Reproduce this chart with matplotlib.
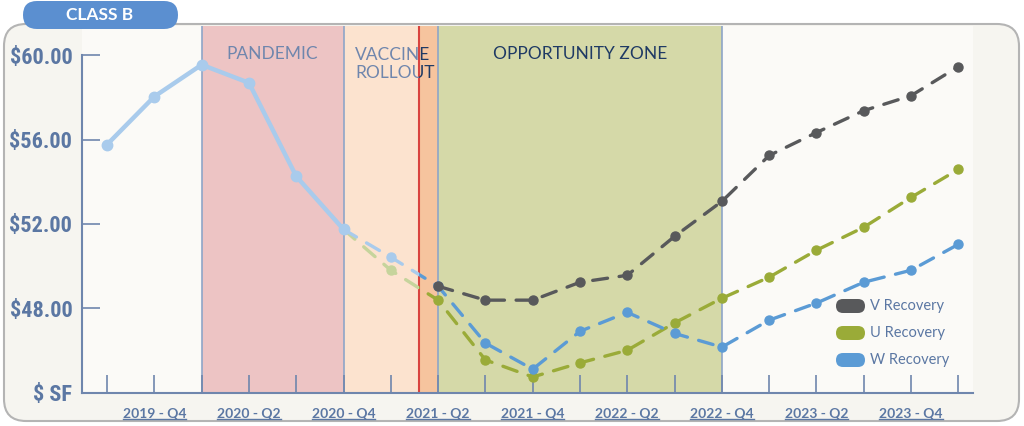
import numpy as np
import matplotlib
matplotlib.use('Agg')
import matplotlib.pyplot as plt
from matplotlib.patches import FancyBboxPatch, Rectangle
from matplotlib.transforms import IdentityTransform, blended_transform_factory
from matplotlib.lines import Line2D
from matplotlib import font_manager

plt.rcParams['font.family'] = ['Lato', 'DejaVu Sans']

# quarters from 2019-Q3 to 2024-Q1 -> index 0..18
quarters = np.arange(19)
tick_labels = ['2019 - Q4', '2020 - Q2', '2020 - Q4', '2021 - Q2', '2021 - Q4',
               '2022 - Q2', '2022 - Q4', '2023 - Q2', '2023 - Q4']
label_pos = [1, 3, 5, 7, 9, 11, 13, 15, 17]

hist_x = [0, 1, 2, 3, 4, 5]
hist_y = [55.77, 58.05, 59.56, 58.70, 54.26, 51.74]

w_x = [5, 6, 7, 8, 9, 10, 11, 12, 13, 14, 15, 16, 17, 18]
w_y = [51.74, 50.42, 49.04, 46.34, 45.10, 46.90, 47.80, 46.80, 46.15,
       47.43, 48.24, 49.23, 49.80, 51.03]
u_x = [5, 6, 7, 8, 9, 10, 11, 12, 13, 14, 15, 16, 17, 18]
u_y = [51.74, 49.80, 48.38, 45.54, 44.73, 45.40, 46.00, 47.30, 48.47,
       49.47, 50.75, 51.84, 53.26, 54.59]
v_x = [7, 8, 9, 10, 11, 12, 13, 14, 15, 16, 17, 18]
v_y = [49.04, 48.38, 48.38, 49.23, 49.56, 51.41, 53.07, 55.25, 56.34,
       57.38, 58.09, 59.47]

y_ticks = [44, 48, 52, 56, 60]
y_labels = ['$ SF', '$48.00', '$52.00', '$56.00', '$60.00']

# zones (in quarter index units)
pandemic = (2, 5)
vaccine = (5, 6.6)
now_zone = (6.6, 7)
opportunity = (7, 13)

AXIS = '#6f86ad'
TXT = '#5b77a3'
NAVY = '#1f3a64'
GRAY = '#58595b'
GREEN = '#9aab38'
BLUE = '#5b9bd5'
LBLUE = '#a9cbec'
LGREEN = '#c6d49c'

# narrow font for the price labels, if there is one
names = {f.name for f in font_manager.fontManager.ttflist}
narrow = None
for cand in ['Liberation Sans Narrow', 'DejaVu Sans Condensed', 'Roboto Condensed',
             'Open Sans Condensed']:
    if cand in names:
        narrow = cand
        break

fig = plt.figure(figsize=(10.24, 4.26), dpi=100)
fig.patch.set_facecolor('white')

# outer panel and header pill (pixel coordinates)
fig.add_artist(FancyBboxPatch((4, 5), 1015, 397, boxstyle='round,pad=0,rounding_size=22',
                              transform=IdentityTransform(), facecolor='#f6f5f0',
                              edgecolor='#b4b4b4', linewidth=1.5, zorder=0))
fig.add_artist(FancyBboxPatch((23, 397), 155, 28, boxstyle='round,pad=0,rounding_size=14',
                              transform=IdentityTransform(), facecolor='#5b8fd0',
                              edgecolor='none', zorder=1))
fig.text(100 / 1024, 411 / 426, 'CLASS B', color='white', fontsize=12.5, fontweight='bold',
         ha='center', va='center')

ax = fig.add_axes([82 / 1024, 33 / 426, 891 / 1024, 367 / 426])
ax.set_facecolor('#fbfaf7')
ax.set_xlim(-0.53, 18.31)
ax.set_ylim(43.97, 61.4)

# zones
ax.axvspan(*pandemic, color='#edc4c4', lw=0, zorder=0)
ax.axvspan(*vaccine, color='#fce3cf', lw=0, zorder=0)
ax.axvspan(*now_zone, color='#f6c49e', lw=0, zorder=0)
ax.axvspan(*opportunity, color='#d5d9a8', lw=0, zorder=0)
for b in [pandemic[0], pandemic[1], opportunity[0], opportunity[1]]:
    ax.axvline(b, color='#8ea5c8', lw=1.2, zorder=1)
ax.axvline(now_zone[0], color='#d9433f', lw=1.5, zorder=1)

# zone titles
ax.text(3.5, 60.05, 'PANDEMIC', color=AXIS, fontsize=12.5, ha='center', va='center')
ax.text(opportunity[0] + 3, 60.05, 'OPPORTUNITY ZONE', color=NAVY, fontsize=12.5,
        ha='center', va='center')
vac_clip_light = Rectangle((vaccine[0], 40), vaccine[1] - vaccine[0], 30, transform=ax.transData)
vac_clip_dark = Rectangle((vaccine[1], 40), 5, 30, transform=ax.transData)
for clip, col in [(vac_clip_light, AXIS), (vac_clip_dark, NAVY)]:
    t = ax.text(5.25, 59.6, 'VACCINE\nROLLOUT', color=col, fontsize=12.5, ha='left',
                va='center', linespacing=1.15)
    t.set_clip_path(clip)
    t.set_clip_on(True)

# historical line
ax.plot(hist_x, hist_y, color=LBLUE, lw=3.2, marker='o', ms=7.5, zorder=4,
        solid_capstyle='round')

# projections: lighter inside vaccine zone, full colour after
def proj(x, y, col, light):
    clip_l = Rectangle((-5, 30), vaccine[1] + 5, 40, transform=ax.transData)
    clip_d = Rectangle((vaccine[1], 30), 20, 40, transform=ax.transData)
    for c, cp in [(light, clip_l), (col, clip_d)]:
        ln, = ax.plot(x, y, color=c, lw=2.4, ls=(0, (4.5, 3.5)), marker='o', ms=6.5,
                      dash_capstyle='round', zorder=3)
        ln.set_clip_path(cp)

proj(u_x, u_y, GREEN, LGREEN)
proj(w_x, w_y, BLUE, LBLUE)
proj(v_x, v_y, GRAY, GRAY)

# axes styling
for s in ['top', 'right']:
    ax.spines[s].set_visible(False)
for s in ['left', 'bottom']:
    ax.spines[s].set_color(AXIS)
    ax.spines[s].set_linewidth(1.5)
    ax.spines[s].set_zorder(6)
ax.spines['left'].set_bounds(43.97, 60)

ax.set_yticks(y_ticks)
ax.set_yticklabels(y_labels)
ax.tick_params(axis='y', direction='in', length=13, width=1.2, color=AXIS, pad=7,
               labelcolor=TXT)
for lab in ax.get_yticklabels():
    if narrow:
        lab.set_family([narrow, 'DejaVu Sans'])
        lab.set_fontsize(16)
    else:
        lab.set_family(['Roboto', 'DejaVu Sans'])
        lab.set_fontsize(14)
    lab.set_fontweight('bold')
ax.yaxis.get_major_ticks()[0].tick1line.set_visible(False)

ax.set_xticks(quarters)
ax.set_xticklabels([])
ax.tick_params(axis='x', direction='in', length=13, width=1.2, color=AXIS)
ax.set_xticks([18], minor=True)
ax.tick_params(axis='x', which='minor', direction='out', length=4, width=1.2, color=AXIS)

trans = blended_transform_factory(ax.transData, IdentityTransform())
xlabs = []
for p, lab in zip(label_pos, tick_labels):
    xlabs.append(ax.text(p, 12, lab, transform=trans, color=TXT, fontsize=10,
                         fontweight='bold', ha='center', va='center'))

# legend
for i, (name, col) in enumerate([('V Recovery', GRAY), ('U Recovery', GREEN),
                                 ('W Recovery', BLUE)]):
    yc = 426 - 306 - 27 * i
    fig.add_artist(FancyBboxPatch((836, yc - 7), 29, 14, boxstyle='round,pad=0,rounding_size=7',
                                  transform=IdentityTransform(), facecolor=col,
                                  edgecolor='none', zorder=5))
    fig.text(870 / 1024, yc / 426, name, color=TXT, fontsize=10.5, ha='left', va='center')

# underline the quarter labels
fig.canvas.draw()
r = fig.canvas.get_renderer()
for t in xlabs:
    bb = t.get_window_extent(r)
    fig.add_artist(Line2D([bb.x0, bb.x1], [bb.y0 + 1, bb.y0 + 1], color=TXT, lw=1,
                          transform=IdentityTransform()))

fig.savefig('out.png', dpi=100)
